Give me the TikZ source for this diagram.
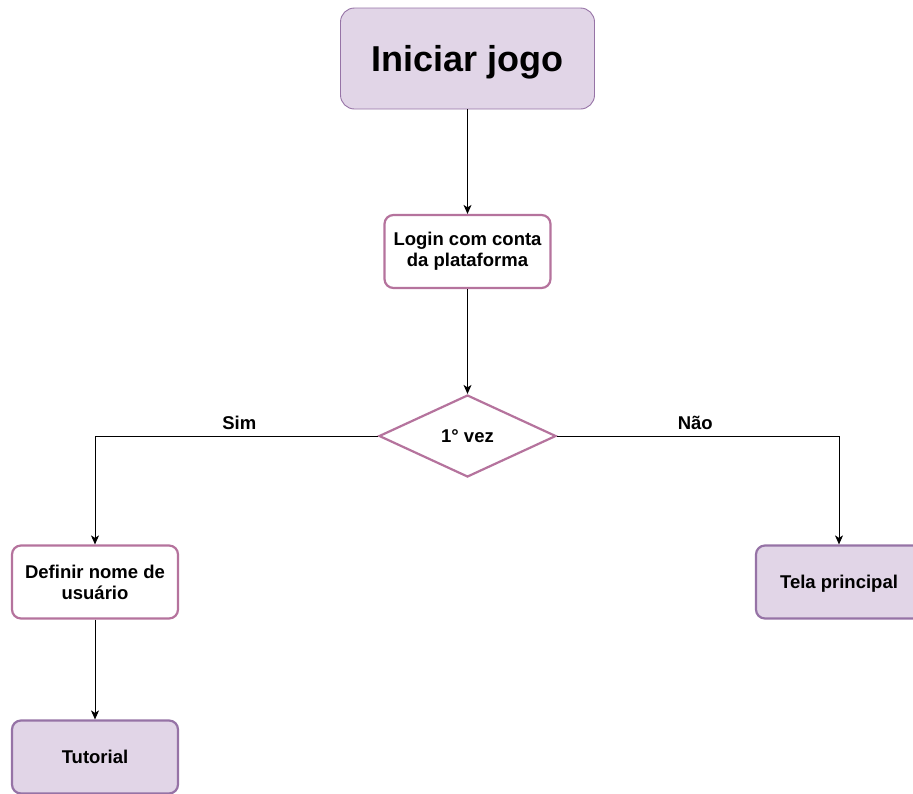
\documentclass[tikz,border=0pt]{standalone}
\usepackage{fontspec}
\setmainfont{Liberation Sans}
\usetikzlibrary{arrows.meta,shapes.geometric}
\definecolor{lilacfill}{HTML}{E1D5E7}
\definecolor{lilacline}{HTML}{9673A6}
\definecolor{pinkline}{HTML}{B5739D}

\begin{document}
\begin{tikzpicture}[x=1pt,y=-1pt,->,>={Stealth[length=9pt,width=8pt,inset=2.5pt]},line width=1pt,
  step box/.style={rectangle,rounded corners=9pt,draw=pinkline,line width=2.2pt,fill=white,minimum width=166pt,minimum height=73pt,align=center,font=\fontsize{18.5}{21}\selectfont\bfseries},
  end box/.style={step box,draw=lilacline,fill=lilacfill,text depth=0pt},
  start box/.style={rectangle,rounded corners=14pt,draw=lilacline,line width=0.9pt,fill=lilacfill,minimum width=254pt,minimum height=101pt,text depth=0pt,font=\fontsize{36}{40}\selectfont\bfseries},
  choice/.style={diamond,draw=pinkline,line width=2.2pt,fill=white,inner sep=0pt,minimum width=177pt,minimum height=82pt,font=\fontsize{18.5}{21}\selectfont\bfseries},
  branch/.style={font=\fontsize{18.5}{21}\selectfont\bfseries,above=2pt}]
  \useasboundingbox (0,0) rectangle (913,793);
  \clip (0,0) rectangle (913,793);

  \node[start box] (start) at (467.5,58.5) {Iniciar jogo};
  \node[step box] (login) at (467.5,251.5) {Login com conta\\da plataforma};
  \node[choice] (first) at (467.5,436) {1° vez};
  \node[step box] (name) at (95,582) {Definir nome de\\usuário};
  \node[end box] (main) at (839,582) {Tela principal};
  \node[end box] (tutorial) at (95,757) {Tutorial};

\path
  (start) edge (login)
  (login) edge (first)
  (name) edge (tutorial)
;
  \draw (first.west) -| node[branch,pos=0.245] {Sim} (name.north);
  \draw (first.east) -| node[branch,pos=0.245] {Não} (main.north);
\end{tikzpicture}
\end{document}
